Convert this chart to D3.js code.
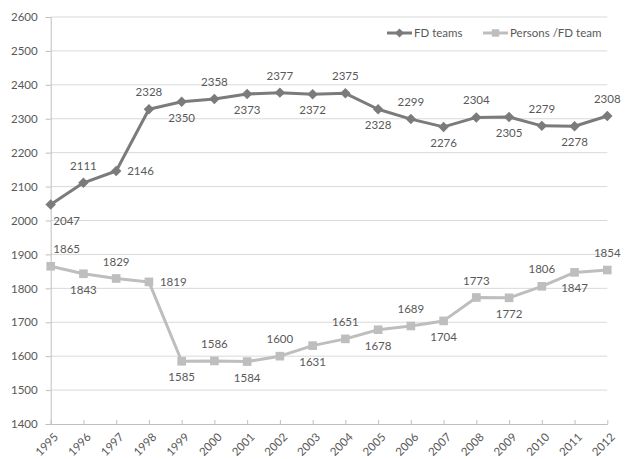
<!DOCTYPE html>
<html>
<head>
<meta charset="utf-8">
<script src="https://cdn.jsdelivr.net/npm/d3@7"></script>
<style>
  body { margin: 0; background: #fff; }
  text { font-family: Lato, "Liberation Sans", sans-serif; fill: #595959; }
</style>
</head>
<body>
<div class="chart"></div>
<script>
"use strict";

const years = [1995, 1996, 1997, 1998, 1999, 2000, 2001, 2002, 2003,
  2004, 2005, 2006, 2007, 2008, 2009, 2010, 2011, 2012];
const fdTeams = [2047, 2111, 2146, 2328, 2350, 2358, 2373, 2377, 2372,
  2375, 2328, 2299, 2276, 2304, 2305, 2279, 2278, 2308];
const personsPerTeam = [1865, 1843, 1829, 1819, 1585, 1586, 1584, 1600, 1631,
  1651, 1678, 1689, 1704, 1773, 1772, 1806, 1847, 1854];
const yTicks = [1400, 1500, 1600, 1700, 1800, 1900, 2000, 2100, 2200,
  2300, 2400, 2500, 2600];

// where each data label sits (a = above, b = below, r = right)
const fdLabelPos = ["b", "a", "r", "a", "b", "a", "b", "a", "b",
  "a", "b", "a", "b", "a", "b", "a", "b", "a"];
const personsLabelPos = ["a", "b", "a", "r", "b", "a", "b", "a", "b",
  "a", "b", "a", "b", "a", "b", "a", "b", "a"];

const W = 625, H = 459;
const X0 = 50.7, X1 = 607.3, Y0 = 424, Y1 = 17;

const svg = d3.select(".chart").append("svg")
  .attr("width", W).attr("height", H);

const x = d3.scalePoint().domain(years).range([X0, X1]);
const y = d3.scaleLinear().domain([1400, 2600]).range([Y0, Y1]);

// gridlines
svg.append("g").selectAll("line").data(yTicks.slice(1)).join("line")
  .attr("x1", X0).attr("x2", X1)
  .attr("y1", d => y(d)).attr("y2", d => y(d))
  .attr("stroke", "#d9d9d9").attr("stroke-width", 1);

// y axis
const yAxis = d3.axisLeft(y).tickValues(yTicks).tickFormat(d3.format("d"))
  .tickSize(5).tickPadding(8);
const yG = svg.append("g").attr("transform", `translate(${X0},0)`).call(yAxis);
yG.select(".domain").attr("stroke", "#bfbfbf");
yG.selectAll(".tick line").attr("stroke", "#bfbfbf");
yG.selectAll(".tick text").style("font-size", "11.5px").attr("fill", "#595959");

// x axis
const xAxis = d3.axisBottom(x).tickSize(-4).tickSizeOuter(0);
const xG = svg.append("g").attr("transform", `translate(0,${Y0})`).call(xAxis);
xG.select(".domain").attr("stroke", "#bfbfbf");
xG.selectAll(".tick line").attr("stroke", "#bfbfbf");
xG.selectAll(".tick text")
  .style("font-size", "11.5px").attr("fill", "#595959")
  .attr("text-anchor", "end")
  .attr("transform", "translate(5,11) rotate(-45)")
  .attr("x", 0).attr("y", 0).attr("dy", "0.35em");

const series = [
  { name: "FD teams", values: fdTeams, pos: fdLabelPos, color: "#7b7b7b", marker: d3.symbolDiamond2, size: 70 },
  { name: "Persons /FD team", values: personsPerTeam, pos: personsLabelPos, color: "#bebebe", marker: d3.symbolSquare2, size: 95 }
];

const line = d3.line().x(d => x(d.year)).y(d => y(d.value));

series.forEach(s => {
  const pts = years.map((yr, i) => ({ year: yr, value: s.values[i], pos: s.pos[i] }));
  const g = svg.append("g");
  g.append("path").datum(pts).attr("d", line)
    .attr("fill", "none").attr("stroke", s.color).attr("stroke-width", 3)
    .attr("stroke-linejoin", "round");
  g.selectAll("path.m").data(pts).join("path").attr("class", "m")
    .attr("d", d3.symbol(s.marker, s.size))
    .attr("transform", d => `translate(${x(d.year)},${y(d.value)})`)
    .attr("fill", s.color);
  g.selectAll("text").data(pts).join("text")
    .style("font-size", "11.5px").attr("fill", "#404040")
    .attr("text-anchor", d => d.pos === "r" ? "start" : "middle")
    .attr("x", d => {
      const px = x(d.year);
      if (d.pos === "r") return px + 11;
      return Math.min(Math.max(px, X0 + 16), W - 13);
    })
    .attr("y", d => {
      const py = y(d.value);
      if (d.pos === "a") return py - 17;
      if (d.pos === "b") return py + 16;
      return py;
    })
    .attr("dy", "0.35em")
    .text(d => d.value);
});

// legend
const legend = svg.append("g").attr("transform", "translate(387,33)");
const legendX = [0, 96];
series.forEach((s, i) => {
  const lg = legend.append("g").attr("transform", `translate(${legendX[i]},0)`);
  lg.append("line").attr("x1", 0).attr("x2", 25).attr("y1", 0).attr("y2", 0)
    .attr("stroke", s.color).attr("stroke-width", 3);
  lg.append("path").attr("d", d3.symbol(s.marker, s.size * 0.75))
    .attr("transform", "translate(12.5,0)").attr("fill", s.color);
  lg.append("text").attr("x", 27).attr("dy", "0.35em")
    .style("font-size", "11.5px").attr("fill", "#595959").text(s.name);
});
</script>
</body>
</html>
